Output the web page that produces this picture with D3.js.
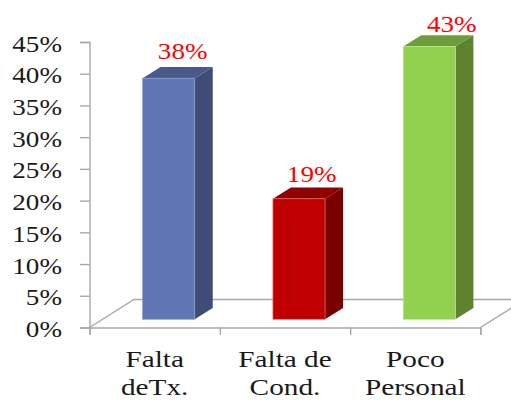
<!DOCTYPE html>
<html><head><meta charset="utf-8">
<script src="https://cdnjs.cloudflare.com/ajax/libs/d3/7.8.5/d3.min.js"></script>
<style>html,body{margin:0;padding:0;background:#fff;overflow:hidden}svg{display:block}
text{font-family:"Liberation Serif",serif}</style></head><body>
<svg id="c" width="511" height="400"></svg>
<script>
const categories = [["Falta","deTx."],["Falta de","Cond."],["Poco","Personal"]];
const values = [38,19,43];
const yTicks = [0,5,10,15,20,25,30,35,40,45];
const frontColors = ["#5F77B3","#C00000","#92D050"];
const sideColors = ["#3F4C75","#7A0000","#5F8231"];
const topColors = ["#475A8A","#900000","#6E9C3C"];
const edgeColors = ["#8A9BC8","#E07070","#BDE592"];
const labelNudgeX = [14,12.7,22.4];
const labelLift = [19.3,17,14.5];

const svg = d3.select("#c");
const left=89.5,right=480.5,y0=327.5,yTop=42,fs=24;
const numStretch=1.13,catStretch=1.22;
const depth={dx:18,dy:11.3}, floor={dx:44.5,dy:28}, baseInset=8.2, barShift=14;
const y=d3.scaleLinear().domain([0,45]).range([y0,yTop]);
const xTick=d3.scaleLinear().domain([0,3]).range([left,right]);
const x=d3.scaleBand().domain(d3.range(3)).range([left+barShift,right+barShift]).paddingInner(0.6).paddingOuter(0.3);
const grey="#A8A8A8";
const place=(px,py,s)=>`translate(${px},${py}) scale(${s},1)`;

// floor
svg.append("path").attr("fill","none").attr("stroke",grey).attr("stroke-width",1.4)
  .attr("d",d3.line()([[left,y0],[left+floor.dx,y0-floor.dy],[right+floor.dx,y0-floor.dy]]));
svg.append("path").attr("fill","none").attr("stroke",grey).attr("stroke-width",1.4)
  .attr("d",d3.line()([[right,y0],[right+floor.dx,y0-floor.dy]]));

// axes
const ay=svg.append("g").attr("transform",`translate(${left},0)`)
  .call(d3.axisLeft(y).tickValues(yTicks).tickSize(9.5).tickFormat(d=>d+"%"));
const ax=svg.append("g").attr("transform",`translate(0,${y0})`)
  .call(d3.axisBottom(xTick).tickValues([0,1,2,3]).tickSize(7.5).tickFormat(""));
[ay,ax].forEach(g=>{g.selectAll("path,line").attr("stroke",grey).attr("stroke-width",1.4);g.attr("font-family",null).attr("font-size",null)});
ay.selectAll("text").attr("x",null).attr("dy",null)
  .attr("transform",place(-27.5,9,numStretch)).attr("fill","#1a1a1a").attr("font-size",fs);

// bars
const w=x.bandwidth(), base=y0-baseInset;
const bars=svg.selectAll("g.bar").data(values).enter().append("g").attr("class","bar");
const line=d3.line();
bars.append("path").attr("fill",(d,i)=>sideColors[i]).attr("d",(d,i)=>{
  const r=x(i)+w, t=base-(y0-y(d));
  return line([[r,t],[r+depth.dx,t-depth.dy],[r+depth.dx,base-depth.dy],[r,base]])+"Z";});
bars.append("path").attr("fill",(d,i)=>topColors[i]).attr("d",(d,i)=>{
  const l=x(i),r=l+w,t=base-(y0-y(d));
  return line([[l,t],[l+depth.dx,t-depth.dy],[r+depth.dx,t-depth.dy],[r,t]])+"Z";});
bars.append("rect").attr("fill",(d,i)=>frontColors[i])
  .attr("stroke",(d,i)=>edgeColors[i]).attr("stroke-width",0.7)
  .attr("x",(d,i)=>x(i)).attr("width",w)
  .attr("y",d=>base-(y0-y(d))).attr("height",d=>y0-y(d));

// value labels
bars.append("text").attr("text-anchor","middle").attr("fill","#FF0000").attr("font-size",fs)
  .attr("transform",(d,i)=>place(x(i)+w/2+labelNudgeX[i],base-(y0-y(d))-labelLift[i],numStretch))
  .text(d=>d+"%");

// category labels
const bandC=i=>xTick(i+0.5);
const cat=svg.selectAll("g.cat").data(categories).enter().append("g").attr("class","cat");
cat.selectAll("text").data((d,i)=>d.map((t,j)=>({t,j,i}))).enter().append("text")
  .attr("text-anchor","middle").attr("fill","#1a1a1a").attr("font-size",fs)
  .attr("transform",d=>place(bandC(d.i),367+d.j*27.7,catStretch))
  .text(d=>d.t);
</script></body></html>
